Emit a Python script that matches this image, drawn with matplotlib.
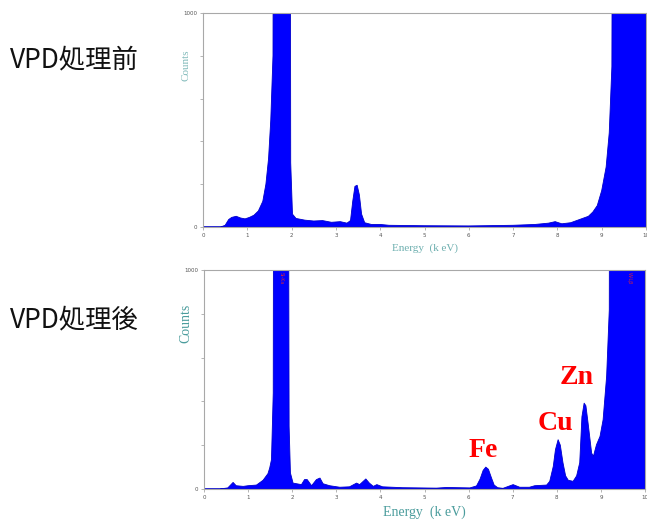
import matplotlib
matplotlib.use('Agg')
import matplotlib.pyplot as plt
import numpy as np

# spectrum before VPD treatment (energy keV, counts; >1000 is off scale)
before_energy = [0.0, 0.40, 0.50, 0.58, 0.65, 0.75, 0.85, 0.95, 1.05, 1.15, 1.25, 1.35, 1.42, 1.48,
                 1.53, 1.58, 1.62, 1.95, 1.98, 2.02, 2.10, 2.30, 2.50, 2.70, 2.90, 3.10, 3.25, 3.33,
                 3.38, 3.43, 3.48, 3.53, 3.58, 3.65, 3.80, 4.00, 4.20, 5.00, 6.00, 7.00, 7.50, 7.80,
                 7.95, 8.10, 8.30, 8.50, 8.70, 8.80, 8.90, 9.00, 9.10, 9.17, 9.23, 9.28, 10.0]
before_counts = [0, 0, 8, 35, 45, 50, 42, 38, 45, 55, 75, 120, 200, 320,
                 500, 800, 5000, 5000, 300, 60, 40, 32, 28, 30, 22, 25, 18, 30,
                 120, 190, 195, 150, 60, 20, 12, 12, 8, 6, 5, 8, 12, 18,
                 25, 15, 20, 35, 50, 70, 100, 170, 280, 440, 750, 5000, 5000]

# spectrum after VPD treatment
after_energy = [0.0, 0.36, 0.54, 0.66, 0.73, 0.89, 1.00, 1.19, 1.34, 1.45, 1.49, 1.53, 1.57, 1.60,
                1.88, 1.93, 1.96, 2.02, 2.21, 2.28, 2.34, 2.44, 2.55, 2.63, 2.70, 2.85, 3.08, 3.30,
                3.46, 3.53, 3.67, 3.75, 3.84, 3.92, 4.05, 4.50, 5.27, 5.50, 6.03, 6.18, 6.26, 6.33,
                6.39, 6.45, 6.52, 6.58, 6.66, 6.78, 7.01, 7.16, 7.38, 7.50, 7.77, 7.84, 7.92, 7.97,
                8.03, 8.08, 8.14, 8.20, 8.26, 8.37, 8.45, 8.52, 8.57, 8.62, 8.66, 8.71, 8.79, 8.83,
                8.90, 8.98, 9.05, 9.13, 9.19, 9.22, 10.0]
after_counts = [0, 0, 5, 30, 15, 12, 15, 18, 40, 70, 96, 134, 438, 5000,
                5000, 286, 73, 27, 20, 43, 43, 15, 43, 50, 24, 15, 8, 10,
                27, 20, 46, 27, 12, 20, 10, 6, 4, 7, 5, 14, 45, 85,
                100, 90, 50, 18, 6, 3, 20, 8, 8, 15, 18, 35, 103, 180,
                225, 200, 120, 60, 40, 35, 60, 120, 330, 392, 380, 300, 164, 149,
                202, 240, 316, 515, 818, 5000, 5000]

peak_labels = ['Fe', 'Cu', 'Zn']
peak_label_x = [6.33, 7.96, 8.44]
peak_label_y = [178, 301, 511]

row_titles = ['VPD処理前', 'VPD処理後']

teal = '#4a9c9c'
frame = '#a8a8a8'

fig = plt.figure(figsize=(6.47, 5.23), dpi=100)
ax_top = fig.add_axes([203 / 647, 1 - 227 / 523, 443 / 647, 214 / 523])
ax_bot = fig.add_axes([204 / 647, 1 - 489 / 523, 441 / 647, 219 / 523])


def style(ax, label_size):
    ax.set_xlim(0, 10)
    ax.set_ylim(0, 1000)
    ax.set_xticks(range(11))
    ax.set_yticks([0, 200, 400, 600, 800, 1000])
    ax.set_yticklabels(['0', '', '', '', '', '1000'])
    ax.tick_params(length=2, width=0.6, color=frame, labelsize=4, labelcolor='#555555', pad=2)
    for s in ax.spines.values():
        s.set_color(frame)
        s.set_linewidth(0.8)
    ax.set_xlabel('Energy  (k eV)', family='Liberation Serif', fontsize=label_size,
                  color=teal, labelpad=4)
    ax.set_ylabel('Counts', family='Liberation Serif', fontsize=label_size,
                  color=teal, labelpad=6)


ax_top.fill_between(before_energy, before_counts, color='#0000ff', lw=0.6, ec='#0000cc')
style(ax_top, 8)
ax_top.yaxis.set_label_coords(-0.029, 0.757)
ax_top.xaxis.label.set_alpha(0.8)
ax_top.yaxis.label.set_alpha(0.7)

ax_bot.fill_between(after_energy, after_counts, color='#0000ff', lw=0.6, ec='#0000cc')
style(ax_bot, 10)
ax_bot.yaxis.set_label_coords(-0.027, 0.758)

# small line markers inside the off-scale peaks
ax_bot.text(1.76, 990, 'Si-Ka', rotation=-90, fontsize=3.5, color='#cc2244',
            ha='center', va='top')
ax_bot.text(9.65, 990, 'W-Lβ', rotation=-90, fontsize=3.5, color='#cc2244',
            ha='center', va='top')

for name, x, y in zip(peak_labels, peak_label_x, peak_label_y):
    ax_bot.text(x, y, name, family='Liberation Serif', fontweight='bold', fontsize=20,
                color='#ff0000', ha='center', va='center')

fig.text(10 / 647, 1 - 60 / 523, row_titles[0], family=['Noto Sans CJK JP', 'DejaVu Sans'],
         fontsize=19, va='center', ha='left', color='#111111')
fig.text(10 / 647, 1 - 320 / 523, row_titles[1], family=['Noto Sans CJK JP', 'DejaVu Sans'],
         fontsize=19, va='center', ha='left', color='#111111')

fig.savefig('out.png', dpi=100)
